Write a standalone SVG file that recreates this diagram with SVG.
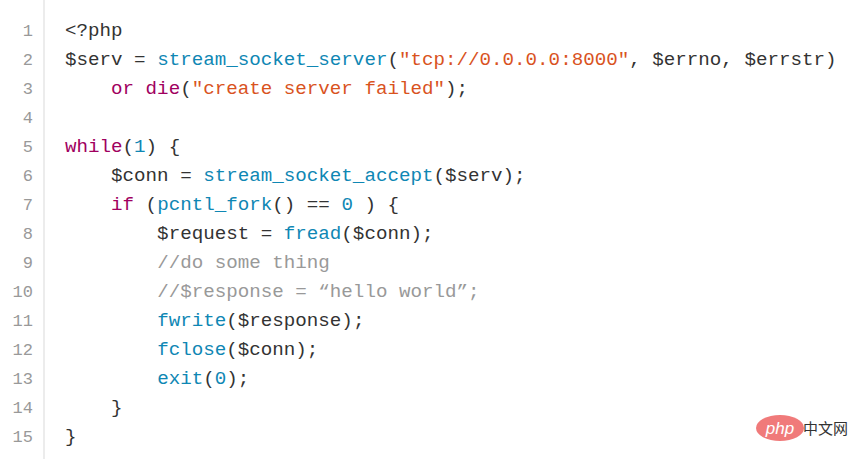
<svg xmlns="http://www.w3.org/2000/svg" width="855" height="459" viewBox="0 0 855 459">
<style>
.n{font-family:"Liberation Mono",monospace;font-size:17px;fill:#999;text-anchor:end}
.c{font-family:"Liberation Mono",monospace;font-size:19.2px;fill:#333;white-space:pre}
.f{fill:#0f87b4}.k{fill:#a0005f}.s{fill:#d9531e}.m{fill:#999}
</style>
<rect width="855" height="459" fill="#fff"/>
<line x1="44" y1="0" x2="44" y2="459" stroke="#e6e6e6" stroke-width="1.5"/>
<g id="gutter">
<text class="n" x="33" y="36">1</text><text class="n" x="33" y="65">2</text><text class="n" x="33" y="94">3</text><text class="n" x="33" y="123">4</text><text class="n" x="33" y="152">5</text><text class="n" x="33" y="181">6</text><text class="n" x="33" y="210">7</text><text class="n" x="33" y="239">8</text><text class="n" x="33" y="268">9</text><text class="n" x="33" y="297">10</text><text class="n" x="33" y="326">11</text><text class="n" x="33" y="355">12</text><text class="n" x="33" y="384">13</text><text class="n" x="33" y="413">14</text><text class="n" x="33" y="442">15</text>
</g>
<g id="code" xml:space="preserve">
<text class="c" x="65" y="36">&lt;?php</text>
<text class="c" x="65" y="65">$serv = <tspan class="f">stream_socket_server</tspan>(<tspan class="s">"tcp://0.0.0.0:8000"</tspan>, $errno, $errstr)</text>
<text class="c" x="65" y="94">    <tspan class="k">or die</tspan>(<tspan class="s">"create server failed"</tspan>);</text>
<text class="c" x="65" y="152"><tspan class="k">while</tspan>(<tspan class="f">1</tspan>) {</text>
<text class="c" x="65" y="181">    $conn = <tspan class="f">stream_socket_accept</tspan>($serv);</text>
<text class="c" x="65" y="210">    <tspan class="k">if</tspan> (<tspan class="f">pcntl_fork</tspan>() == <tspan class="f">0</tspan> ) {</text>
<text class="c" x="65" y="239">        $request = <tspan class="f">fread</tspan>($conn);</text>
<text class="c" x="65" y="268">        <tspan class="m">//do some thing</tspan></text>
<text class="c" x="65" y="297">        <tspan class="m">//$response = “hello world”;</tspan></text>
<text class="c" x="65" y="326">        <tspan class="f">fwrite</tspan>($response);</text>
<text class="c" x="65" y="355">        <tspan class="f">fclose</tspan>($conn);</text>
<text class="c" x="65" y="384">        <tspan class="f">exit</tspan>(<tspan class="f">0</tspan>);</text>
<text class="c" x="65" y="413">    }</text>
<text class="c" x="65" y="442">}</text>
</g>
<g id="watermark">
<ellipse cx="780" cy="428" rx="24" ry="13" fill="#f07a7a"/>
<text x="780" y="434" font-family="Liberation Sans,sans-serif" font-size="17" font-style="italic" fill="#fff" text-anchor="middle">php</text>
<text x="803" y="434" font-family="Noto Sans CJK SC,sans-serif" font-size="15" fill="#333">中文网</text>
</g>
</svg>
